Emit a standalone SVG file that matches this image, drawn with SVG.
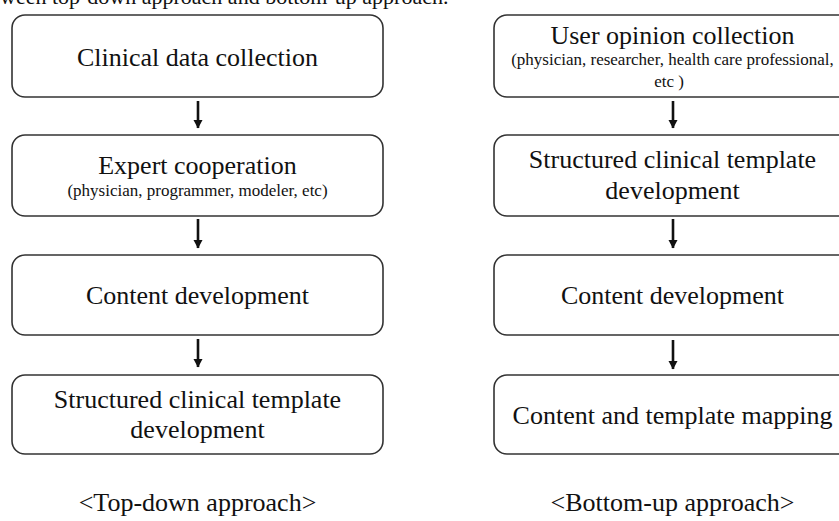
<svg xmlns="http://www.w3.org/2000/svg" width="839" height="521" viewBox="0 0 839 521" font-family="'Liberation Serif', 'Times New Roman', serif">
<defs>
<style>
.box{fill:#fff;stroke:#333;stroke-width:1.6}
.lbl{fill:#111;text-anchor:middle;font-family:'Liberation Serif','Times New Roman',serif}
.t{font-size:26px}
.s{font-size:17px}
.arr{stroke:#111;stroke-width:2.6;fill:none}
</style>
<marker id="ah" markerWidth="4" markerHeight="4" refX="3.2" refY="2" orient="auto" markerUnits="strokeWidth">
<path d="M0,0.2 L3.4,2 L0,3.8 Z" fill="#111"/>
</marker>
</defs>
<rect width="839" height="521" fill="#fff"/>
<text x="0" y="4" font-family="'Liberation Serif', serif" font-size="22" fill="#111">ween top-down approach and bottom-up approach.</text>

<g id="td1"><rect class="box" x="12" y="15" width="371" height="82" rx="13"/><text class="lbl t" x="197.5" y="66">Clinical data collection</text></g>
<g id="td2"><rect class="box" x="12" y="135" width="371" height="81" rx="13"/><text class="lbl t" x="197.5" y="174">Expert cooperation</text><text class="lbl s" x="197.5" y="196">(physician, programmer, modeler, etc)</text></g>
<g id="td3"><rect class="box" x="12" y="255" width="371" height="80" rx="13"/><text class="lbl t" x="197.5" y="304">Content development</text></g>
<g id="td4"><rect class="box" x="12" y="375" width="371" height="79" rx="13"/><text class="lbl t" x="197.5" y="408">Structured clinical template</text><text class="lbl t" x="197.5" y="438">development</text></g>
<g id="td-caption"><text class="lbl t" x="197.5" y="511">&lt;Top-down approach&gt;</text></g>

<g id="bu1"><rect class="box" x="494" y="15" width="371" height="82" rx="13"/><text class="lbl t" x="672.5" y="44">User opinion collection</text><text class="lbl s" x="672.5" y="65">(physician, researcher, health care professional,</text><text class="lbl s" x="669" y="87">etc )</text></g>
<g id="bu2"><rect class="box" x="494" y="135" width="371" height="81" rx="13"/><text class="lbl t" x="672.5" y="168">Structured clinical template</text><text class="lbl t" x="672.5" y="199">development</text></g>
<g id="bu3"><rect class="box" x="494" y="255" width="371" height="80" rx="13"/><text class="lbl t" x="672.5" y="304">Content development</text></g>
<g id="bu4"><rect class="box" x="494" y="375" width="371" height="79" rx="13"/><text class="lbl t" x="672.5" y="424">Content and template mapping</text></g>
<g id="bu-caption"><text class="lbl t" x="672.5" y="511">&lt;Bottom-up approach&gt;</text></g>

<g id="connectors">
<line class="arr" x1="198" y1="101" x2="198" y2="128" marker-end="url(#ah)"/>
<line class="arr" x1="198" y1="219" x2="198" y2="248" marker-end="url(#ah)"/>
<line class="arr" x1="198" y1="339" x2="198" y2="367" marker-end="url(#ah)"/>
<line class="arr" x1="673" y1="101" x2="673" y2="128" marker-end="url(#ah)"/>
<line class="arr" x1="673" y1="219" x2="673" y2="248" marker-end="url(#ah)"/>
<line class="arr" x1="673" y1="340" x2="673" y2="369" marker-end="url(#ah)"/>
</g>
</svg>
